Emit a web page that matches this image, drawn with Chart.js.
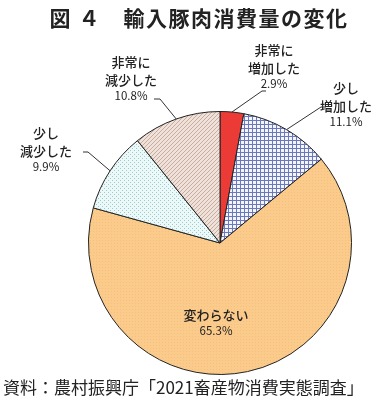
<!DOCTYPE html>
<html>
<head>
<meta charset="utf-8">
<script src="https://cdn.jsdelivr.net/npm/chart.js@4/dist/chart.umd.min.js"></script>
<style>
  html, body { margin: 0; padding: 0; background: #fff; }
  #wrap { width: 376px; height: 402px; position: relative; }
</style>
</head>
<body>
<div id="wrap"><canvas id="pie"></canvas></div>
<script>
// data
const categories = ['非常に増加した', '少し増加した', '変わらない', '少し減少した', '非常に減少した'];
const labelLines = [['非常に', '増加した'], ['少し', '増加した'], ['変わらない'], ['少し', '減少した'], ['非常に', '減少した']];
const shares = [2.9, 11.1, 65.3, 9.9, 10.8];

const FONT = '"Noto Sans CJK JP", "Noto Sans", sans-serif';

// small tile patterns for the slice fills
function makePattern(size, bg, draw) {
  const c = document.createElement('canvas');
  c.width = size; c.height = size;
  const g = c.getContext('2d');
  g.fillStyle = bg;
  g.fillRect(0, 0, size, size);
  draw(g);
  return g.createPattern(c, 'repeat');
}

const red = '#ec3b36';
const grid = makePattern(4, '#f4f5fb', g => {
  g.fillStyle = '#6a78bd';
  g.fillRect(0, 0, 4, 1);
  g.fillRect(0, 0, 1, 4);
});
const orange = makePattern(3, '#fbcb8c', g => {
  g.fillStyle = '#f6bf7d';
  g.fillRect(0, 0, 1, 1);
});
const dots = makePattern(4, '#eef8f8', g => {
  g.fillStyle = '#8ecfd0';
  g.fillRect(0, 0, 1, 1);
  g.fillRect(2, 2, 1, 1);
});
const hatch = makePattern(4, '#efe2da', g => {
  g.strokeStyle = '#c9ab9d';
  g.lineWidth = 1;
  g.beginPath();
  g.moveTo(0, 4); g.lineTo(4, 0);
  g.moveTo(-1, 1); g.lineTo(1, -1);
  g.moveTo(3, 5); g.lineTo(5, 3);
  g.stroke();
});

// where each label sits and where its leader line bends
const labelSpots = [
  { x: 274, y: 50, bend: [262, 91], end: [266, 91] },
  { x: 346, y: 88, bend: [321, 107], end: [326, 107] },
  { x: 216, y: 315 },
  { x: 46, y: 133, bend: [88, 152], end: [83, 152] },
  { x: 131, y: 62, bend: [160, 99], end: [154, 99] }
];

const sliceLabels = {
  id: 'sliceLabels',
  afterDatasetsDraw(chart) {
    const ctx = chart.ctx;
    const arcs = chart.getDatasetMeta(0).data;
    ctx.save();
    arcs.forEach((arc, i) => {
      const p = arc.getProps(['x', 'y', 'startAngle', 'endAngle', 'outerRadius'], true);
      const spot = labelSpots[i];
      if (spot.bend) {
        const mid = (p.startAngle + p.endAngle) / 2;
        const ax = p.x + Math.cos(mid) * p.outerRadius;
        const ay = p.y + Math.sin(mid) * p.outerRadius;
        ctx.strokeStyle = '#333';
        ctx.lineWidth = 1;
        ctx.beginPath();
        ctx.moveTo(ax, ay);
        ctx.lineTo(spot.bend[0], spot.bend[1]);
        ctx.lineTo(spot.end[0], spot.end[1]);
        ctx.stroke();
      }
      ctx.fillStyle = '#222';
      ctx.textAlign = 'center';
      ctx.textBaseline = 'middle';
      let y = spot.y;
      labelLines[i].forEach(line => {
        ctx.font = '500 13px ' + FONT;
        ctx.fillText(line, spot.x, y);
        y += 18;
      });
      ctx.font = '11.5px ' + FONT;
      ctx.fillText(shares[i].toFixed(1) + '%', spot.x, y - 2);
    });
    ctx.restore();
  }
};

const titles = {
  id: 'titles',
  afterDraw(chart) {
    const ctx = chart.ctx;
    ctx.save();
    ctx.fillStyle = '#222';
    ctx.textBaseline = 'middle';
    ctx.textAlign = 'center';
    ctx.font = 'bold 21px ' + FONT;
    ctx.letterSpacing = '1.5px';
    ctx.fillText('図 ４　輸入豚肉消費量の変化', 199, 18);
    ctx.letterSpacing = '0px';
    ctx.textAlign = 'left';
    ctx.font = '17px ' + FONT;
    ctx.fillText('資料：農村振興庁「2021畜産物消費実態調査」', 3, 388);
    ctx.restore();
  }
};

new Chart(document.getElementById('pie'), {
  type: 'pie',
  data: {
    labels: categories,
    datasets: [{
      data: shares,
      backgroundColor: [red, grid, orange, dots, hatch],
      borderColor: '#222',
      borderWidth: 1
    }]
  },
  options: {
    responsive: true,
    maintainAspectRatio: false,
    animation: false,
    layout: { padding: { left: 88, right: 24, top: 111, bottom: 27 } },
    plugins: {
      legend: { display: false },
      tooltip: { enabled: false }
    }
  },
  plugins: [sliceLabels, titles]
});
</script>
</body>
</html>
